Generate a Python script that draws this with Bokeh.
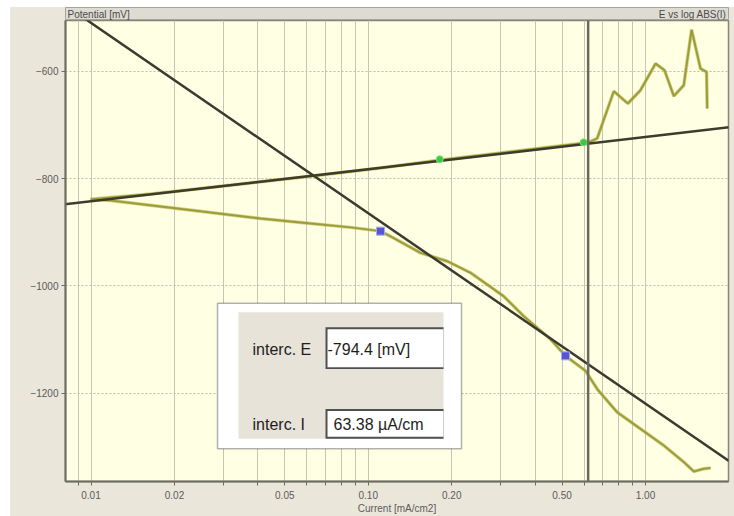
import math
from bokeh.plotting import figure
from bokeh.layouts import column
from bokeh.models import (Range1d, FixedTicker, Span, Label, BoxAnnotation)
from bokeh.embed import file_html
from bokeh.resources import INLINE

# ---------------- data ----------------
# measured polarisation curve (current mA/cm2, potential mV)
curve_i = [1.716, 1.623, 1.494, 1.374, 1.164, 0.9592, 0.7906, 0.6695, 0.6074, 0.5146,
           0.4543, 0.3631, 0.3075, 0.2338, 0.1927, 0.1543, 0.1203, 0.1107, 0.0863, 0.0570,
           0.04088, 0.02698, 0.01781, 0.01176, 0.00996,
           0.0164, 0.0376, 0.0629, 0.1107, 0.1823, 0.2999, 0.4543, 0.6246, 0.6695, 0.7685,
           0.8633, 0.959, 1.087, 1.171, 1.265, 1.374, 1.466, 1.579, 1.66, 1.669]
curve_e = [-1339.9, -1341.2, -1346.2, -1328.7, -1297.9, -1266.9, -1235.9, -1192.6, -1158.6, -1130.7,
           -1099.7, -1056.4, -1019.3, -975.8, -954.2, -938.6, -907.8, -898.1, -891.1, -881.8,
           -874.6, -863.2, -852.1, -840.9, -838.7,
           -828.9, -808.3, -795.4, -780.5, -765.6, -752.4, -741.2, -732.6, -725.0, -637.2,
           -660.0, -635.3, -585.7, -598.1, -646.4, -626.0, -522.5, -595.0, -601.3, -669.3]

# Tafel fit
e_corr = -794.4      # mV
i_corr = 0.06338     # mA/cm2
beta_a = 60.0        # mV/decade
beta_c = -355.0      # mV/decade
line_i = [0.008, 2.0]

# fit range markers
cath_fit_i = [0.1107, 0.5146]
cath_fit_e = [-898.1, -1130.7]
anod_fit_i = [0.1811, 0.598]
anod_fit_e = [-764.0, -732.5]

cursor_i = 0.621

x_ticks = [0.009, 0.01, 0.02, 0.03, 0.04, 0.05, 0.06, 0.07, 0.08, 0.09,
           0.1, 0.2, 0.3, 0.4, 0.5, 0.6, 0.7, 0.8, 0.9, 1.0]
x_labels = {0.01: "0.01", 0.02: "0.02", 0.05: "0.05", 0.1: "0.10",
            0.2: "0.20", 0.5: "0.50", 1.0: "1.00"}
y_ticks = [-1200, -1000, -800, -600]

inset_label_e = "interc. E"
inset_value_e = "-794.4 [mV]"
inset_label_i = "interc. I"
inset_value_i = "63.38 \u00b5A/cm"

# ---------------- derived ----------------
anod_e = [e_corr + beta_a * math.log10(i / i_corr) for i in line_i]
cath_e = [e_corr + beta_c * math.log10(i / i_corr) for i in line_i]

X0, X1 = 0.008091, 1.992
Y0, Y1 = -1365.0, -505.3

FONT = "Liberation Sans"
BEIGE = "#EBE6DA"

p = figure(width=724, height=496, x_axis_type="log",
           x_range=Range1d(X0, X1), y_range=Range1d(Y0, Y1),
           output_backend="svg", toolbar_location=None,
           min_border_left=55, min_border_right=6, min_border_top=0, min_border_bottom=33)
p.background_fill_color = "#FFFFE4"
p.border_fill_color = BEIGE
p.outline_line_color = "#85857A"
p.outline_line_width = 1.5

# axes
xa = p.xaxis[0]
xa.ticker = FixedTicker(ticks=x_ticks, minor_ticks=[])
xa.major_label_overrides = {t: x_labels.get(t, "") for t in x_ticks}
xa.axis_label = "Current [mA/cm2]"
ya = p.yaxis[0]
ya.ticker = FixedTicker(ticks=y_ticks, minor_ticks=[])
for ax in (xa, ya):
    ax.axis_line_color = "#6C6C62"
    ax.axis_line_width = 2
    ax.major_tick_line_color = "#6C6C62"
    ax.major_tick_in = 0
    ax.major_tick_out = 4
    ax.minor_tick_line_color = None
    ax.major_label_text_font = FONT
    ax.major_label_text_font_size = "10px"
    ax.major_label_text_color = "#5A5A5A"
    ax.axis_label_text_font = FONT
    ax.axis_label_text_font_size = "10px"
    ax.axis_label_text_font_style = "normal"
    ax.axis_label_text_color = "#5A5A5A"
xa.major_label_standoff = 5
xa.axis_label_standoff = 1
ya.major_label_standoff = 3

# grid
p.xgrid.ticker = FixedTicker(ticks=x_ticks, minor_ticks=[])
p.xgrid.grid_line_color = "#C6C6B2"
p.xgrid.grid_line_width = 1
p.ygrid.ticker = FixedTicker(ticks=y_ticks, minor_ticks=[])
p.ygrid.grid_line_color = "#BEBEAE"
p.ygrid.grid_line_dash = "2 2"

# cursor line
p.add_layout(Span(location=cursor_i, dimension="height", line_color="#6A6A5E", line_width=2.5))

# curve
p.line(curve_i, curve_e, line_color="#B4B44A", line_width=3.5, line_alpha=0.6)
p.line(curve_i, curve_e, line_color="#9C9C38", line_width=2)

# Tafel lines
p.line(line_i, cath_e, line_color="#3A3A30", line_width=2.5)
p.line(line_i, anod_e, line_color="#3C3C2C", line_width=2.5)

# fit markers
p.scatter(cath_fit_i, cath_fit_e, marker="square", size=8, fill_color="#5656D2",
          line_color="#A8A8F0", line_width=1)
p.scatter(anod_fit_i, anod_fit_e, marker="circle", size=7, fill_color="#3CC83C",
          line_color="#80E080", line_width=1)

# ---------------- inset panel (screenshot of result fields) ----------------
def fx(px):
    return 10 ** (-2 + (px - 90.5) / 277.25)

def fy(py):
    return -600 - (py - 71) * 1.8576

p.add_layout(BoxAnnotation(left=fx(217), right=fx(461), top=fy(304), bottom=fy(450),
                           fill_color="white", fill_alpha=1, line_color="black", line_width=1.5))
p.add_layout(BoxAnnotation(left=fx(238), right=fx(443), top=fy(313), bottom=fy(440),
                           fill_color="#E7E3D9", fill_alpha=1, line_color=None))
for top, bot in ((328, 370), (410, 440)):
    p.add_layout(BoxAnnotation(left=fx(325), right=fx(443), top=fy(top), bottom=fy(bot),
                               fill_color="#505050", fill_alpha=1, line_color=None))
    p.add_layout(BoxAnnotation(left=fx(327), right=fx(443), top=fy(top + 2), bottom=fy(bot - 2),
                               fill_color="white", fill_alpha=1, line_color=None))

for txt, px, py in ((inset_label_e, 252, 350), (inset_value_e, 327, 350),
                    (inset_label_i, 252, 426), (inset_value_i, 333, 426)):
    p.add_layout(Label(x=fx(px), y=fy(py), text=txt, text_font=FONT, text_font_size="16px",
                       text_color="#1E1E1E", text_baseline="middle", text_align="left"))

# ---------------- title bar ----------------
bar = figure(width=724, height=13, x_range=Range1d(0, 1), y_range=Range1d(0, 1),
             output_backend="svg", toolbar_location=None,
             x_axis_location=None, y_axis_location=None,
             min_border_left=55, min_border_right=6, min_border_top=0, min_border_bottom=0)
bar.background_fill_color = "#DEDBD2"
bar.border_fill_color = BEIGE
bar.outline_line_color = "#A4A49A"
bar.grid.visible = False
bar.add_layout(Label(x=0, y=0.5, x_offset=2, text="Potential [mV]", text_font=FONT,
                     text_font_size="10px", text_color="#4A4A4A", text_baseline="middle"))
bar.add_layout(Label(x=1, y=0.5, x_offset=-2, text="E vs log ABS(I)", text_font=FONT,
                     text_font_size="10px", text_color="#4A4A4A", text_baseline="middle",
                     text_align="right"))

layout = column(bar, p, margin=(7, 0, 0, 10), spacing=0,
                styles={"background-color": BEIGE})

open("out.html", "w").write(file_html(layout, INLINE))
